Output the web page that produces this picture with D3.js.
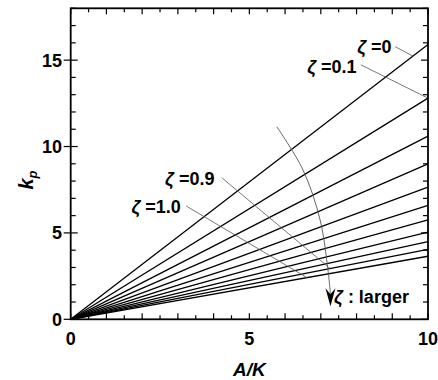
<!DOCTYPE html>
<html>
<head>
<meta charset="utf-8">
<script src="https://cdn.jsdelivr.net/npm/d3@7"></script>
<style>
body { margin: 0; background: #fff; }
text { font-family: "Liberation Sans", Arial, sans-serif; font-weight: bold; fill: #000; }
</style>
</head>
<body>
<div id="chart"></div>
<script>

// zeta values, one straight line each (from the origin to A/K = 10)
var zetas = ["0", "0.1", "0.2", "0.3", "0.4", "0.5", "0.6", "0.7", "0.8", "0.9", "1.0"];
var aK = [0, 10];
var kpAt10 = [15.9, 12.8, 10.6, 9.0, 7.65, 6.6, 5.75, 5.05, 4.5, 4.05, 3.65];

var xTickLabels = [0, 5, 10];
var yTickLabels = [0, 5, 10, 15];

// labels: [zeta index, text x, text y, leader start x, leader start y, leader end x]  (data units)
var labelNotes = [
  [0, 8.02, 15.43, 9.08, 15.78, 9.58],
  [1, 6.62, 14.27, 8.12, 14.73, 10],
  [9, 2.64, 7.78, 4.23, 8.19, 7.26],
  [10, 1.70, 6.16, 3.23, 6.56, 6.61]
];

// curved arrow "zeta : larger"
var arcX = [5.77, 6.50, 6.98, 7.20, 7.27];
var arcY = [11.14, 8.65, 5.75, 2.86, 1.45];
var arrowTip = [7.27, 0.75];

var W = 438, H = 380;
var svg = d3.select("#chart").append("svg").attr("width", W).attr("height", H);

var x = d3.scaleLinear().domain([0, 10]).range([70.7, 428]);
var y = d3.scaleLinear().domain([0, 18]).range([319.3, 8.3]);

// ticks (inside), majors on y cross the axis
var g = svg.append("g");
d3.range(0, 10.01, 0.5).forEach(function(v) {
  var len = (v % 1 === 0) ? 6 : 4;
  g.append("line").attr("x1", x(v)).attr("x2", x(v)).attr("y1", y(0)).attr("y2", y(0) - len)
    .attr("stroke", "#000").attr("stroke-width", 1.2);
  g.append("line").attr("x1", x(v)).attr("x2", x(v)).attr("y1", y(18)).attr("y2", y(18) + len)
    .attr("stroke", "#000").attr("stroke-width", 1.2);
});
d3.range(0, 18.01, 1).forEach(function(v) {
  var major = v % 5 === 0;
  var len = major ? 7 : 5;
  g.append("line").attr("x1", x(0) - (major ? 7 : 0)).attr("x2", x(0) + len).attr("y1", y(v)).attr("y2", y(v))
    .attr("stroke", "#000").attr("stroke-width", 1.2);
  g.append("line").attr("x1", x(10)).attr("x2", x(10) - len).attr("y1", y(v)).attr("y2", y(v))
    .attr("stroke", "#000").attr("stroke-width", 1.2);
});

// tick labels
svg.selectAll(".xl").data(xTickLabels).enter().append("text")
  .attr("x", function(d) { return x(d); }).attr("y", 345)
  .attr("text-anchor", "middle").style("font-size", "18px").text(function(d) { return d; });
svg.selectAll(".yl").data(yTickLabels).enter().append("text")
  .attr("x", 62).attr("y", function(d) { return y(d) + 6.5; })
  .attr("text-anchor", "end").style("font-size", "18px").text(function(d) { return d; });

// data lines
var line = d3.line().x(function(d) { return x(d[0]); }).y(function(d) { return y(d[1]); });
zetas.forEach(function(z, i) {
  var pts = aK.map(function(a) { return [a, kpAt10[i] * a / 10]; });
  svg.append("path").attr("d", line(pts)).attr("fill", "none")
    .attr("stroke", "#000").attr("stroke-width", 1.3);
});

// leaders + labels
labelNotes.forEach(function(n) {
  var i = n[0];
  var endY = kpAt10[i] * n[5] / 10;
  svg.append("line").attr("x1", x(n[3])).attr("y1", y(n[4])).attr("x2", x(n[5])).attr("y2", y(endY))
    .attr("stroke", "#555").attr("stroke-width", 0.8);
  var t = svg.append("text").attr("x", x(n[1])).attr("y", y(n[2])).style("font-size", "18px");
  t.append("tspan").style("font-style", "italic").text("ζ");
  t.append("tspan").text(" =" + zetas[i]);
});

// curved arrow
var arcPts = arcX.map(function(v, i) { return [v, arcY[i]]; });
svg.append("path")
  .attr("d", d3.line().curve(d3.curveCatmullRom).x(function(d) { return x(d[0]); }).y(function(d) { return y(d[1]); })(arcPts))
  .attr("fill", "none").attr("stroke", "#555").attr("stroke-width", 0.9);
var tx = x(arrowTip[0]), ty = y(arrowTip[1]);
svg.append("path")
  .attr("d", "M" + tx + "," + ty + " L" + (tx - 5) + "," + (ty - 18) + " L" + tx + "," + (ty - 12) + " L" + (tx + 5) + "," + (ty - 18) + " Z")
  .attr("fill", "#000");
var lt = svg.append("text").attr("x", x(7.37)).attr("y", y(0.94)).style("font-size", "18px");
lt.append("tspan").style("font-style", "italic").text("ζ");
lt.append("tspan").text(" :  larger");

// frame
svg.append("rect").attr("x", x(0)).attr("y", y(18)).attr("width", x(10) - x(0)).attr("height", y(0) - y(18))
  .attr("fill", "none").attr("stroke", "#000").attr("stroke-width", 1.8);

// axis titles
svg.append("text").attr("x", (x(0) + x(10)) / 2).attr("y", 376).attr("text-anchor", "middle")
  .style("font-size", "19px").style("font-style", "italic").text("A/K");
var yt = svg.append("text").attr("transform", "translate(33,180) rotate(-90)").attr("text-anchor", "middle")
  .style("font-size", "20px");
yt.append("tspan").style("font-style", "italic").text("k");
yt.append("tspan").attr("dy", 4).style("font-size", "13px").style("font-style", "italic").text("p");

</script>
</body>
</html>
